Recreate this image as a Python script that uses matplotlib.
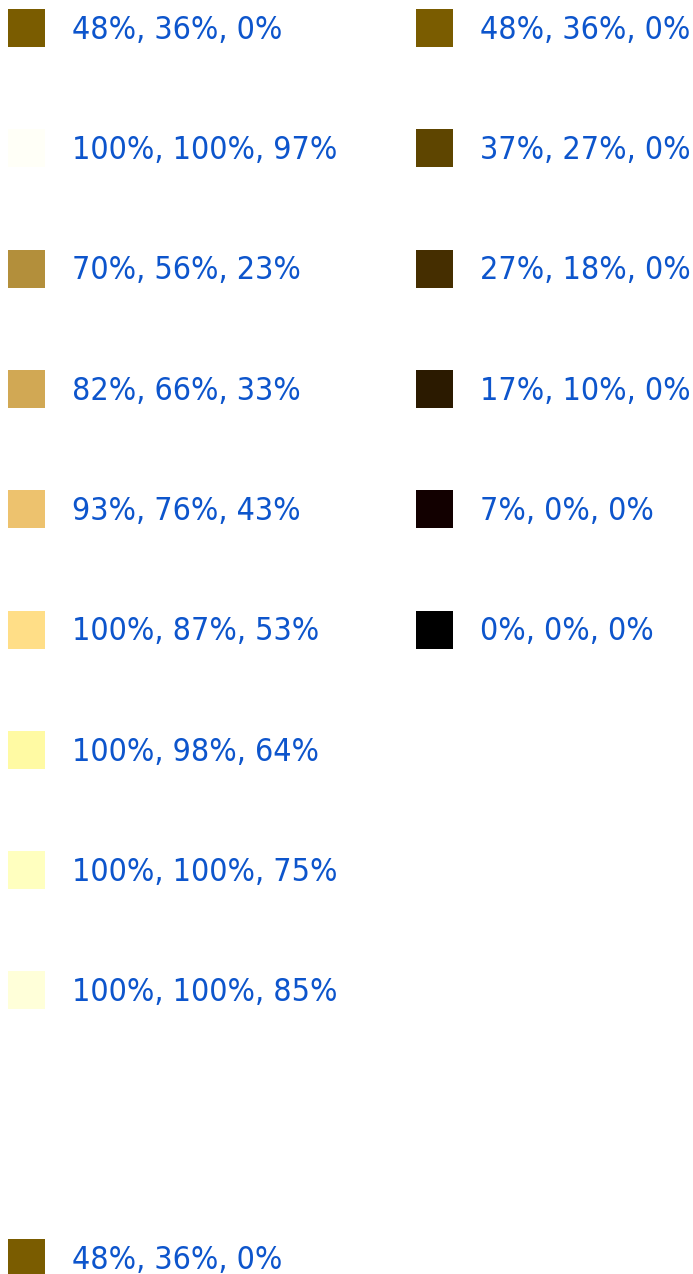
import matplotlib
matplotlib.use("Agg")
import matplotlib.pyplot as plt
from matplotlib import font_manager

# Data: RGB percentages per swatch
left_colors = [
    (48, 36, 0), (100, 100, 97), (70, 56, 23), (82, 66, 33), (93, 76, 43),
    (100, 87, 53), (100, 98, 64), (100, 100, 75), (100, 100, 85),
]
right_colors = [
    (48, 36, 0), (37, 27, 0), (27, 18, 0), (17, 10, 0), (7, 0, 0), (0, 0, 0),
]
bottom_colors = [(48, 36, 0)]

cond = [f.fname for f in font_manager.fontManager.ttflist
        if f.name.startswith("DejaVu Sans") and "Condensed" in f.fname
        and "Bold" not in f.fname and "Oblique" not in f.fname]

W, H = 693, 1274
fig = plt.figure(figsize=(W / 100, H / 100), dpi=100)
ax = fig.add_axes([0, 0, 1, 1])
ax.set_xlim(0, W)
ax.set_ylim(H, 0)
ax.axis("off")

text_color = "#0d55cc"
row_step = 120.3
sw_w, sw_h = 37, 38

if cond:
    fp = font_manager.FontProperties(fname=cond[0], size=23.0)
else:
    fp = font_manager.FontProperties(family="DejaVu Sans", size=20.7)


def label(c):
    return f"{c[0]}%, {c[1]}%, {c[2]}%"


def draw_column(colors, x0, y_centers):
    for c, yc in zip(colors, y_centers):
        rgb = tuple(v / 100 for v in c)
        ax.bar(x0, sw_h, width=sw_w, bottom=yc - sw_h / 2, align="edge",
               color=rgb, edgecolor="none")
        ax.text(x0 + 64, yc + 10.8, label(c), color=text_color,
                fontproperties=fp, va="baseline", ha="left")


draw_column(left_colors, 8, [28 + row_step * i for i in range(len(left_colors))])
draw_column(right_colors, 416, [28 + row_step * i for i in range(len(right_colors))])
draw_column(bottom_colors, 8, [1258])

fig.savefig("out.png", dpi=100)
